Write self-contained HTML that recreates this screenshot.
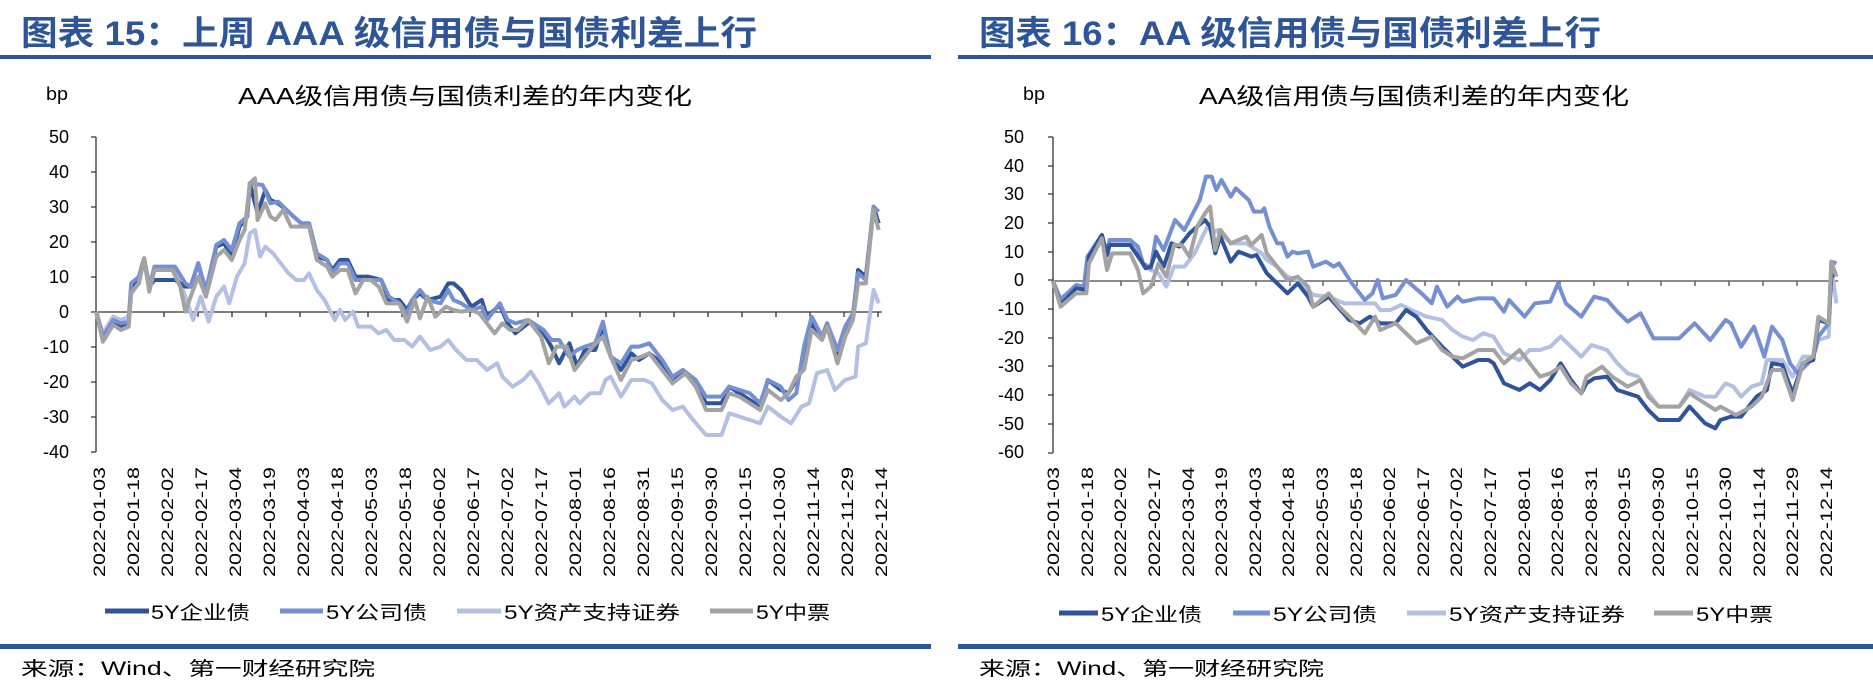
<!DOCTYPE html>
<html><head><meta charset="utf-8"><style>
html,body{margin:0;padding:0;background:#fff;}
svg{display:block;}
text{font-family:"Liberation Sans","Noto Sans CJK SC",sans-serif;}
.t{font-weight:bold;fill:#2e5597;font-size:34px;}
.ct{font-size:23px;fill:#000;}
.yl{font-size:18px;fill:#000;text-anchor:end;}
.xl{font-size:17px;fill:#000;text-anchor:end;}
.lg{font-size:19px;fill:#000;}
.src{font-size:19px;fill:#000;}
.s{fill:none;stroke-width:4;stroke-linejoin:round;vector-effect:non-scaling-stroke;}
.c1{stroke:#2f549b;}.c2{stroke:#7590d2;}.c3{stroke:#b3c0e4;}.c4{stroke:#a3a3a3;}
</style></head><body>
<svg width="1873" height="688" viewBox="0 0 1873 688" xmlns="http://www.w3.org/2000/svg">
<!-- LEFT PANEL -->
<text class="t" x="21" y="45" textLength="736" lengthAdjust="spacingAndGlyphs">图表 15：上周 AAA 级信用债与国债利差上行</text>
<rect x="0" y="55" width="931" height="4" fill="#2e5597"/>
<text x="46" y="100" font-size="18" textLength="22" lengthAdjust="spacingAndGlyphs">bp</text>
<text class="ct" x="238" y="104" textLength="454" lengthAdjust="spacingAndGlyphs">AAA级信用债与国债利差的年内变化</text>
<g>
<text class="yl" x="69" y="143">50</text>
<text class="yl" x="69" y="178">40</text>
<text class="yl" x="69" y="213">30</text>
<text class="yl" x="69" y="248">20</text>
<text class="yl" x="69" y="283">10</text>
<text class="yl" x="69" y="318">0</text>
<text class="yl" x="69" y="353">-10</text>
<text class="yl" x="69" y="388">-20</text>
<text class="yl" x="69" y="423">-30</text>
<text class="yl" x="69" y="458">-40</text>
</g>
<g stroke="#333" stroke-width="1.3" fill="none">
<path d="M96 137V452 M91 137H96 M91 172H96 M91 207H96 M91 242H96 M91 277H96 M91 312H96 M91 347H96 M91 382H96 M91 417H96 M91 452H96"/>
<path d="M96 312H882"/>
<path d="M130 312v5M164 312v5M198 312v5M232 312v5M266 312v5M300 312v5M334 312v5M368 312v5M402 312v5M436 312v5M470 312v5M504 312v5M538 312v5M572 312v5M606 312v5M640 312v5M674 312v5M708 312v5M742 312v5M776 312v5M810 312v5M844 312v5M878 312v5"/>
</g>
<g transform="translate(90,130) scale(0.5155,0.3333)">
<polyline class="s c3" points="12,545 25,610 45,560 60,570 75,560 80,460 95,440 105,400 115,470 125,420 165,420 185,500 200,570 215,500 230,575 245,500 260,470 270,520 285,440 300,400 310,310 320,300 330,380 340,350 355,370 370,400 385,430 400,450 415,450 425,430 440,480 455,510 465,540 475,570 485,540 495,570 510,545 520,590 545,590 560,610 575,600 590,630 610,630 625,650 640,620 660,660 680,650 695,630 710,660 730,690 750,690 770,720 790,700 800,740 820,770 840,750 855,725 870,760 890,820 910,790 920,830 940,800 950,820 970,790 990,790 1000,750 1010,740 1030,800 1050,750 1075,750 1090,760 1110,810 1130,840 1150,830 1170,870 1195,915 1225,915 1240,850 1260,860 1280,870 1300,880 1315,830 1340,860 1360,880 1380,830 1395,820 1410,730 1430,720 1445,780 1465,750 1485,740 1490,650 1505,640 1520,480 1530,520"/>
<polyline class="s c1" points="12,545 25,630 45,575 60,590 75,580 80,470 95,440 105,385 115,470 125,450 165,450 185,470 195,470 210,400 225,490 245,350 260,340 275,380 290,290 305,260 310,160 325,250 340,180 350,210 365,220 385,245 395,260 410,280 425,280 440,380 460,390 470,420 485,390 500,390 515,440 540,440 565,450 580,510 600,510 615,540 625,510 640,490 655,510 680,500 695,460 705,460 720,480 740,530 760,510 770,560 795,525 810,580 825,610 850,580 860,580 880,610 895,650 910,700 930,640 945,710 960,660 980,660 995,590 1010,680 1030,720 1050,670 1065,690 1085,670 1110,700 1130,760 1150,720 1175,760 1195,820 1225,820 1240,770 1260,790 1280,810 1300,830 1315,750 1340,780 1355,790 1370,750 1385,710 1400,580 1420,620 1430,580 1450,690 1465,610 1480,560 1490,420 1505,440 1520,230 1530,280"/>
<polyline class="s c2" points="12,545 25,620 45,570 60,580 75,575 80,460 95,440 105,390 115,470 125,410 165,410 185,460 195,470 210,400 225,480 245,345 260,330 275,360 290,280 305,260 310,160 335,165 350,220 365,215 385,245 395,260 410,280 425,280 440,370 460,390 470,430 485,400 500,400 515,450 540,450 565,450 580,500 600,520 615,550 625,510 640,480 655,510 680,520 695,480 705,510 720,520 740,540 760,530 770,570 795,520 810,570 825,580 850,570 860,580 880,600 895,630 910,630 930,680 945,660 960,650 980,640 995,575 1010,680 1030,700 1050,650 1065,650 1085,640 1110,690 1130,740 1150,720 1175,750 1195,800 1225,800 1240,770 1260,780 1280,790 1300,820 1315,750 1340,770 1355,810 1370,790 1385,650 1400,560 1420,620 1430,580 1450,660 1465,590 1480,550 1490,430 1505,450 1520,230 1530,245"/>
<polyline class="s c4" points="12,545 25,635 45,585 60,600 75,590 80,490 95,460 105,385 115,485 125,420 160,420 175,470 185,545 200,480 210,440 225,500 245,380 260,360 275,390 290,330 300,300 310,160 320,145 325,270 340,220 350,260 360,270 375,240 390,290 410,290 425,290 440,390 460,410 470,440 485,420 500,420 515,490 530,450 545,450 560,470 575,520 600,520 615,575 630,510 640,565 655,500 670,560 690,530 705,540 720,545 740,540 755,550 770,580 785,610 800,580 815,600 830,600 850,570 860,590 875,620 890,700 905,650 925,650 940,720 955,690 975,650 995,620 1010,680 1030,750 1050,690 1070,680 1085,670 1110,720 1130,760 1155,730 1175,770 1195,840 1225,840 1240,790 1260,800 1280,820 1300,840 1315,780 1340,810 1355,790 1370,740 1385,720 1400,600 1420,630 1430,590 1450,700 1465,620 1480,570 1490,460 1505,460 1520,240 1530,300"/>
</g>
<g id="xl1">
<text class="xl" transform="translate(105,467) rotate(-90)" textLength="110" lengthAdjust="spacingAndGlyphs">2022-01-03</text>
<text class="xl" transform="translate(139,467) rotate(-90)" textLength="110" lengthAdjust="spacingAndGlyphs">2022-01-18</text>
<text class="xl" transform="translate(173,467) rotate(-90)" textLength="110" lengthAdjust="spacingAndGlyphs">2022-02-02</text>
<text class="xl" transform="translate(207,467) rotate(-90)" textLength="110" lengthAdjust="spacingAndGlyphs">2022-02-17</text>
<text class="xl" transform="translate(241,467) rotate(-90)" textLength="110" lengthAdjust="spacingAndGlyphs">2022-03-04</text>
<text class="xl" transform="translate(275,467) rotate(-90)" textLength="110" lengthAdjust="spacingAndGlyphs">2022-03-19</text>
<text class="xl" transform="translate(309,467) rotate(-90)" textLength="110" lengthAdjust="spacingAndGlyphs">2022-04-03</text>
<text class="xl" transform="translate(343,467) rotate(-90)" textLength="110" lengthAdjust="spacingAndGlyphs">2022-04-18</text>
<text class="xl" transform="translate(377,467) rotate(-90)" textLength="110" lengthAdjust="spacingAndGlyphs">2022-05-03</text>
<text class="xl" transform="translate(411,467) rotate(-90)" textLength="110" lengthAdjust="spacingAndGlyphs">2022-05-18</text>
<text class="xl" transform="translate(445,467) rotate(-90)" textLength="110" lengthAdjust="spacingAndGlyphs">2022-06-02</text>
<text class="xl" transform="translate(479,467) rotate(-90)" textLength="110" lengthAdjust="spacingAndGlyphs">2022-06-17</text>
<text class="xl" transform="translate(513,467) rotate(-90)" textLength="110" lengthAdjust="spacingAndGlyphs">2022-07-02</text>
<text class="xl" transform="translate(547,467) rotate(-90)" textLength="110" lengthAdjust="spacingAndGlyphs">2022-07-17</text>
<text class="xl" transform="translate(581,467) rotate(-90)" textLength="110" lengthAdjust="spacingAndGlyphs">2022-08-01</text>
<text class="xl" transform="translate(615,467) rotate(-90)" textLength="110" lengthAdjust="spacingAndGlyphs">2022-08-16</text>
<text class="xl" transform="translate(649,467) rotate(-90)" textLength="110" lengthAdjust="spacingAndGlyphs">2022-08-31</text>
<text class="xl" transform="translate(683,467) rotate(-90)" textLength="110" lengthAdjust="spacingAndGlyphs">2022-09-15</text>
<text class="xl" transform="translate(717,467) rotate(-90)" textLength="110" lengthAdjust="spacingAndGlyphs">2022-09-30</text>
<text class="xl" transform="translate(751,467) rotate(-90)" textLength="110" lengthAdjust="spacingAndGlyphs">2022-10-15</text>
<text class="xl" transform="translate(785,467) rotate(-90)" textLength="110" lengthAdjust="spacingAndGlyphs">2022-10-30</text>
<text class="xl" transform="translate(819,467) rotate(-90)" textLength="110" lengthAdjust="spacingAndGlyphs">2022-11-14</text>
<text class="xl" transform="translate(853,467) rotate(-90)" textLength="110" lengthAdjust="spacingAndGlyphs">2022-11-29</text>
<text class="xl" transform="translate(887,467) rotate(-90)" textLength="110" lengthAdjust="spacingAndGlyphs">2022-12-14</text>
</g>
<g stroke-width="5">
<line x1="105" y1="611" x2="149" y2="611" stroke="#2f549b"/>
<line x1="280" y1="611" x2="323" y2="611" stroke="#7590d2"/>
<line x1="457" y1="611" x2="501" y2="611" stroke="#b3c0e4"/>
<line x1="710" y1="611" x2="753" y2="611" stroke="#a3a3a3"/>
</g>
<text class="lg" x="151" y="619" textLength="99" lengthAdjust="spacingAndGlyphs">5Y企业债</text>
<text class="lg" x="326" y="619" textLength="101" lengthAdjust="spacingAndGlyphs">5Y公司债</text>
<text class="lg" x="504" y="619" textLength="176" lengthAdjust="spacingAndGlyphs">5Y资产支持证券</text>
<text class="lg" x="756" y="619" textLength="74" lengthAdjust="spacingAndGlyphs">5Y中票</text>
<rect x="0" y="644" width="931" height="5" fill="#2e5597"/>
<text class="src" x="21" y="675" textLength="354" lengthAdjust="spacingAndGlyphs">来源：Wind、第一财经研究院</text>

<!-- RIGHT PANEL -->
<text class="t" x="979" y="45" textLength="622" lengthAdjust="spacingAndGlyphs">图表 16：AA 级信用债与国债利差上行</text>
<rect x="958" y="55" width="915" height="4" fill="#2e5597"/>
<text x="1023" y="100" font-size="18" textLength="22" lengthAdjust="spacingAndGlyphs">bp</text>
<text class="ct" x="1199" y="104" textLength="430" lengthAdjust="spacingAndGlyphs">AA级信用债与国债利差的年内变化</text>
<g>
<text class="yl" x="1024" y="143">50</text>
<text class="yl" x="1024" y="172">40</text>
<text class="yl" x="1024" y="200">30</text>
<text class="yl" x="1024" y="229">20</text>
<text class="yl" x="1024" y="258">10</text>
<text class="yl" x="1024" y="286">0</text>
<text class="yl" x="1024" y="315">-10</text>
<text class="yl" x="1024" y="344">-20</text>
<text class="yl" x="1024" y="372">-30</text>
<text class="yl" x="1024" y="401">-40</text>
<text class="yl" x="1024" y="430">-50</text>
<text class="yl" x="1024" y="458">-60</text>
</g>
<g stroke="#333" stroke-width="1.3" fill="none">
<path d="M1053 137V453 M1048 137H1053 M1048 166H1053 M1048 194H1053 M1048 223H1053 M1048 252H1053 M1048 280H1053 M1048 309H1053 M1048 338H1053 M1048 366H1053 M1048 395H1053 M1048 424H1053 M1048 453H1053"/>
</g>
<g stroke="#666" stroke-width="1.5" fill="none">
<path d="M1053 281H1838"/>
<path d="M1087 281v5M1121 281v5M1154 281v5M1188 281v5M1222 281v5M1256 281v5M1290 281v5M1323 281v5M1357 281v5M1391 281v5M1425 281v5M1459 281v5M1492 281v5M1526 281v5M1560 281v5M1594 281v5M1628 281v5M1661 281v5M1695 281v5M1729 281v5M1763 281v5M1797 281v5M1830 281v5"/>
</g>
<g transform="translate(1040,130) scale(0.5155,0.3333)">
<polyline class="s c3" points="25,453 40,505 70,470 90,470 95,390 120,325 130,390 135,340 180,340 200,400 215,420 230,430 245,470 260,410 280,410 300,370 315,320 325,290 335,310 345,300 370,340 400,340 430,370 440,390 460,410 480,440 500,450 530,495 560,500 590,520 620,520 650,520 660,540 680,540 700,525 720,540 750,560 780,570 800,600 820,620 840,630 860,610 880,620 900,670 930,690 950,660 970,660 990,650 1010,620 1030,650 1050,680 1070,645 1100,660 1120,700 1140,730 1160,740 1180,790 1200,830 1240,830 1260,780 1290,800 1310,800 1330,760 1345,770 1360,800 1380,770 1400,760 1410,690 1440,690 1460,740 1480,680 1500,680 1510,630 1530,620 1535,410 1545,520"/>
<polyline class="s c2" points="25,453 40,510 70,465 85,470 92,380 120,315 130,370 135,330 175,330 190,350 200,400 215,415 225,320 240,360 262,270 280,300 300,240 310,210 322,140 333,140 342,180 352,150 370,200 380,175 405,210 415,245 430,245 435,235 445,290 460,340 470,340 480,380 490,365 500,370 520,365 530,410 555,395 570,410 580,400 605,460 630,510 645,490 655,450 665,505 690,495 710,450 740,490 760,520 770,470 790,530 810,500 820,515 850,505 880,505 900,545 910,510 940,560 960,520 990,515 1005,460 1020,520 1050,560 1075,500 1100,510 1120,545 1140,575 1165,550 1190,625 1240,625 1270,580 1300,630 1330,570 1340,580 1360,650 1385,590 1405,680 1420,590 1440,630 1455,700 1470,730 1490,700 1500,680 1510,620 1530,580 1535,395 1545,400"/>
<polyline class="s c1" points="25,453 40,525 70,475 90,480 95,380 120,315 130,375 135,345 175,345 195,390 205,415 215,410 225,365 240,410 255,340 270,350 290,310 305,290 320,270 330,290 340,370 350,320 370,395 385,365 410,380 420,375 440,430 460,460 480,490 500,460 520,500 530,530 560,500 600,570 620,580 640,560 660,580 690,580 710,540 730,560 750,600 780,650 800,680 820,710 850,690 870,690 880,700 900,760 930,780 950,760 970,780 990,750 1010,700 1030,750 1050,790 1060,760 1075,745 1100,740 1120,780 1140,790 1160,800 1180,840 1200,870 1240,870 1260,830 1290,880 1310,895 1320,870 1340,860 1360,860 1390,800 1410,780 1420,700 1440,705 1460,790 1480,700 1500,690 1510,570 1530,580 1535,440 1545,430"/>
<polyline class="s c4" points="25,453 40,530 70,490 90,490 95,400 120,325 130,420 140,370 175,370 190,420 200,490 215,470 230,400 245,440 260,345 275,345 290,380 305,290 320,250 330,230 340,360 350,300 370,340 400,320 410,345 430,315 440,370 460,410 480,450 500,440 520,470 530,530 560,490 580,530 600,560 630,610 650,560 660,600 690,580 710,610 730,640 760,620 780,660 800,680 820,685 850,660 880,660 900,700 930,660 950,700 970,740 990,730 1010,710 1030,760 1050,790 1060,740 1090,710 1110,740 1140,770 1165,750 1180,800 1200,830 1240,830 1260,790 1290,820 1310,840 1320,830 1350,855 1380,830 1400,800 1420,720 1440,720 1460,810 1480,700 1500,680 1510,560 1530,580 1535,395 1545,440"/>
</g>
<g>
<text class="xl" transform="translate(1059,467) rotate(-90)" textLength="110" lengthAdjust="spacingAndGlyphs">2022-01-03</text>
<text class="xl" transform="translate(1093,467) rotate(-90)" textLength="110" lengthAdjust="spacingAndGlyphs">2022-01-18</text>
<text class="xl" transform="translate(1126,467) rotate(-90)" textLength="110" lengthAdjust="spacingAndGlyphs">2022-02-02</text>
<text class="xl" transform="translate(1160,467) rotate(-90)" textLength="110" lengthAdjust="spacingAndGlyphs">2022-02-17</text>
<text class="xl" transform="translate(1194,467) rotate(-90)" textLength="110" lengthAdjust="spacingAndGlyphs">2022-03-04</text>
<text class="xl" transform="translate(1227,467) rotate(-90)" textLength="110" lengthAdjust="spacingAndGlyphs">2022-03-19</text>
<text class="xl" transform="translate(1261,467) rotate(-90)" textLength="110" lengthAdjust="spacingAndGlyphs">2022-04-03</text>
<text class="xl" transform="translate(1294,467) rotate(-90)" textLength="110" lengthAdjust="spacingAndGlyphs">2022-04-18</text>
<text class="xl" transform="translate(1328,467) rotate(-90)" textLength="110" lengthAdjust="spacingAndGlyphs">2022-05-03</text>
<text class="xl" transform="translate(1362,467) rotate(-90)" textLength="110" lengthAdjust="spacingAndGlyphs">2022-05-18</text>
<text class="xl" transform="translate(1395,467) rotate(-90)" textLength="110" lengthAdjust="spacingAndGlyphs">2022-06-02</text>
<text class="xl" transform="translate(1429,467) rotate(-90)" textLength="110" lengthAdjust="spacingAndGlyphs">2022-06-17</text>
<text class="xl" transform="translate(1462,467) rotate(-90)" textLength="110" lengthAdjust="spacingAndGlyphs">2022-07-02</text>
<text class="xl" transform="translate(1496,467) rotate(-90)" textLength="110" lengthAdjust="spacingAndGlyphs">2022-07-17</text>
<text class="xl" transform="translate(1530,467) rotate(-90)" textLength="110" lengthAdjust="spacingAndGlyphs">2022-08-01</text>
<text class="xl" transform="translate(1563,467) rotate(-90)" textLength="110" lengthAdjust="spacingAndGlyphs">2022-08-16</text>
<text class="xl" transform="translate(1597,467) rotate(-90)" textLength="110" lengthAdjust="spacingAndGlyphs">2022-08-31</text>
<text class="xl" transform="translate(1630,467) rotate(-90)" textLength="110" lengthAdjust="spacingAndGlyphs">2022-09-15</text>
<text class="xl" transform="translate(1664,467) rotate(-90)" textLength="110" lengthAdjust="spacingAndGlyphs">2022-09-30</text>
<text class="xl" transform="translate(1698,467) rotate(-90)" textLength="110" lengthAdjust="spacingAndGlyphs">2022-10-15</text>
<text class="xl" transform="translate(1731,467) rotate(-90)" textLength="110" lengthAdjust="spacingAndGlyphs">2022-10-30</text>
<text class="xl" transform="translate(1765,467) rotate(-90)" textLength="110" lengthAdjust="spacingAndGlyphs">2022-11-14</text>
<text class="xl" transform="translate(1798,467) rotate(-90)" textLength="110" lengthAdjust="spacingAndGlyphs">2022-11-29</text>
<text class="xl" transform="translate(1832,467) rotate(-90)" textLength="110" lengthAdjust="spacingAndGlyphs">2022-12-14</text>
</g>
<g stroke-width="5">
<line x1="1059" y1="613" x2="1098" y2="613" stroke="#2f549b"/>
<line x1="1233" y1="613" x2="1270" y2="613" stroke="#7590d2"/>
<line x1="1407" y1="613" x2="1446" y2="613" stroke="#b3c0e4"/>
<line x1="1654" y1="613" x2="1693" y2="613" stroke="#a3a3a3"/>
</g>
<text class="lg" x="1101" y="621" textLength="101" lengthAdjust="spacingAndGlyphs">5Y企业债</text>
<text class="lg" x="1273" y="621" textLength="104" lengthAdjust="spacingAndGlyphs">5Y公司债</text>
<text class="lg" x="1449" y="621" textLength="176" lengthAdjust="spacingAndGlyphs">5Y资产支持证券</text>
<text class="lg" x="1696" y="621" textLength="77" lengthAdjust="spacingAndGlyphs">5Y中票</text>
<rect x="958" y="644" width="915" height="5" fill="#2e5597"/>
<text class="src" x="979" y="675" textLength="345" lengthAdjust="spacingAndGlyphs">来源：Wind、第一财经研究院</text>
</svg>
</body></html>
